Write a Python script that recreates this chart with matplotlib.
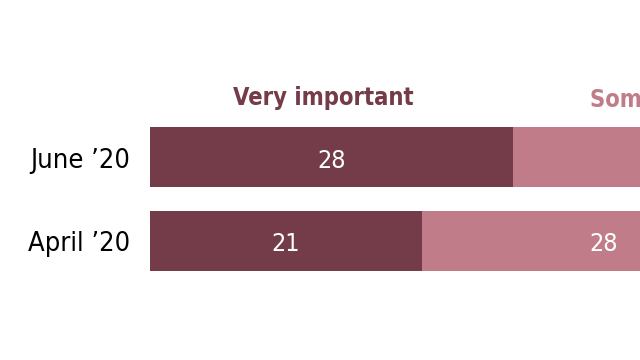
import matplotlib.pyplot as plt

periods = ["June \u201920", "April \u201920"]
very = [28, 21]
somewhat = [33, 28]

dark = '#733c48'
light = '#c07c88'

plt.rcParams['font.family'] = ['DejaVu Sans']
plt.rcParams['font.stretch'] = 'condensed'

fig = plt.figure(figsize=(6.4, 3.6), dpi=100)
# axes spans from the bars' left edge to the right side of the picture
ax = fig.add_axes([150 / 640, 1 - 270.7 / 360, 490 / 640, 143.4 / 360])

ys = [1, 0]
h = 0.72
ax.barh(ys, very, height=h, color=dark, edgecolor='none')
ax.barh(ys, somewhat, left=very, height=h, color=light, edgecolor='none')

dy = 0.04
for y, v, s, p in zip(ys, very, somewhat, periods):
    ax.text(v / 2, y - dy, str(v), ha='center', va='center', color='white', fontsize=18)
    ax.text(v + s / 2, y - dy, str(s), ha='center', va='center', color='white',
            fontsize=18, clip_on=True)
    ax.text(-20 / 12.96, y - dy, p, ha='right', va='center', color='black',
            fontsize=19.5, clip_on=False)

ax.set_xlim(0, 490 / 12.96)
ax.set_ylim(-0.36, 1.36)
ax.set_yticks([])
ax.set_xticks([])
for sp in ax.spines.values():
    sp.set_visible(False)

fig.text(323 / 640, 1 - 98 / 360, 'Very important', ha='center', va='center',
         color=dark, fontsize=17, fontweight='bold')
fig.text(590 / 640, 1 - 100 / 360, 'Somewhat important', ha='left', va='center',
         color=light, fontsize=17, fontweight='bold')

fig.savefig('out.png', dpi=100)
